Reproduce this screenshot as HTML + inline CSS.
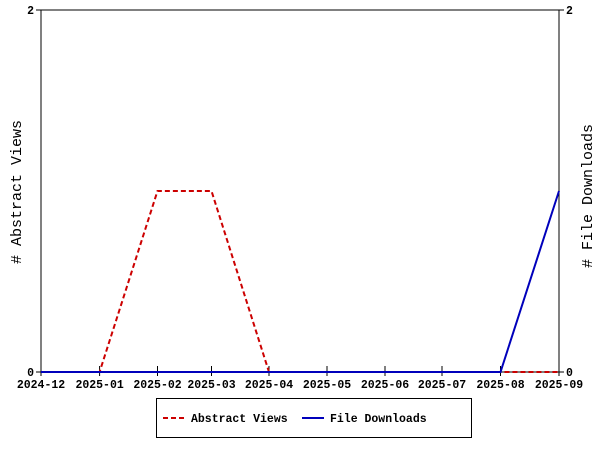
<!DOCTYPE html>
<html><head><style>body{margin:0;background:#fff}svg{display:block}text{font-family:"Liberation Mono",monospace;font-weight:bold;font-size:11.5px;fill:#000}</style></head>
<body>
<svg width="600" height="450" xmlns="http://www.w3.org/2000/svg">
<rect x="41" y="10" width="518" height="362" fill="none" stroke="#000" stroke-width="1"/>
<g stroke="#000" stroke-width="1">
<line x1="36" y1="10" x2="41" y2="10"/><line x1="36" y1="372" x2="41" y2="372"/>
<line x1="559" y1="10" x2="564" y2="10"/><line x1="559" y1="372" x2="564" y2="372"/>
<line x1="41" y1="366" x2="41" y2="376"/><line x1="99.6" y1="366" x2="99.6" y2="376"/><line x1="157.5" y1="366" x2="157.5" y2="376"/><line x1="211.5" y1="366" x2="211.5" y2="376"/><line x1="269" y1="366" x2="269" y2="376"/><line x1="327" y1="366" x2="327" y2="376"/><line x1="385" y1="366" x2="385" y2="376"/><line x1="442" y1="366" x2="442" y2="376"/><line x1="500.5" y1="366" x2="500.5" y2="376"/><line x1="559" y1="366" x2="559" y2="376"/>
</g>
<text x="34" y="14" text-anchor="end">2</text><text x="34" y="376" text-anchor="end">0</text>
<text x="566" y="14">2</text><text x="566" y="376">0</text>
<g text-anchor="middle">
<text x="41" y="388">2024-12</text><text x="99.6" y="388">2025-01</text><text x="157.5" y="388">2025-02</text><text x="211.5" y="388">2025-03</text><text x="269" y="388">2025-04</text><text x="327" y="388">2025-05</text><text x="385" y="388">2025-06</text><text x="442" y="388">2025-07</text><text x="500.5" y="388">2025-08</text><text x="559" y="388">2025-09</text>
</g>
<text transform="translate(21,192) rotate(-90)" text-anchor="middle" style="font-size:15px;font-weight:normal">#  Abstract Views</text>
<text transform="translate(592,196) rotate(-90)" text-anchor="middle" style="font-size:15px;font-weight:normal"># File Downloads</text>
<polyline points="41,372 99.6,372 157.5,191 211.5,191 269,372 559,372" fill="none" stroke="#cc0000" stroke-width="2" stroke-dasharray="5,3"/>
<polyline points="41,372 500.5,372 559,191" fill="none" stroke="#0000bb" stroke-width="2"/>
<rect x="156.5" y="398.5" width="315" height="39" fill="none" stroke="#000"/>
<line x1="163" y1="418" x2="184" y2="418" stroke="#cc0000" stroke-width="2" stroke-dasharray="5,3"/>
<text x="191" y="422">Abstract Views</text>
<line x1="302" y1="418" x2="324" y2="418" stroke="#0000bb" stroke-width="2"/>
<text x="330" y="422">File Downloads</text>
</svg>
</body></html>
